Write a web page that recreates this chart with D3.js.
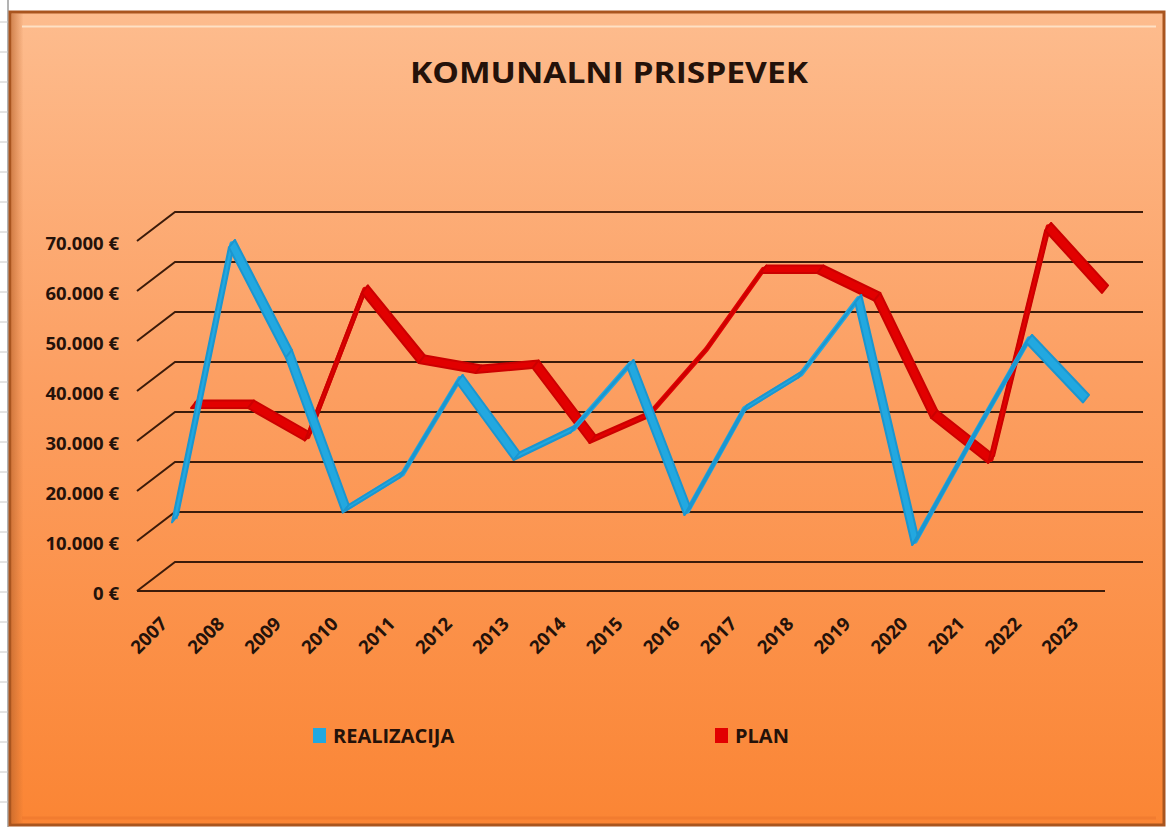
<!DOCTYPE html>
<html>
<head>
<meta charset="utf-8">
<script src="https://cdn.jsdelivr.net/npm/d3@7"></script>
<style>
  html, body { margin: 0; padding: 0; background: #ffffff; }
  svg { display: block; }
  text { font-family: "Open Sans", "DejaVu Sans", sans-serif; font-weight: 700; fill: #24120a; }
</style>
</head>
<body>
<svg id="chart" width="1166" height="827"></svg>
<script>
// ---------------- data ----------------
const years = ["2007","2008","2009","2010","2011","2012","2013","2014","2015","2016","2017","2018","2019","2020","2021","2022","2023"];
const realizacija = [13000, 68000, 46000, 15000, 22000, 41000, 25500, 31000, 44000, 14500, 35000, 42000, 57000, 8500, 29000, 49000, 37000];
const plan = [33000, 33000, 26500, 56000, 42000, 40000, 41000, 26000, 31000, 44000, 60000, 60000, 54500, 31000, 22000, 68500, 56000];
const yTickValues = [0, 10000, 20000, 30000, 40000, 50000, 60000, 70000];
const seriesNames = ["REALIZACIJA", "PLAN"];
const titleText = "KOMUNALNI PRISPEVEK";

// ---------------- layout ----------------
const W = 1166, H = 827;
const svg = d3.select("#chart");
const defs = svg.append("defs");

const bg = defs.append("linearGradient").attr("id", "bg").attr("x1", 0).attr("y1", 0).attr("x2", 0).attr("y2", 1);
bg.append("stop").attr("offset", "0%").attr("stop-color", "#fdbc8e");
bg.append("stop").attr("offset", "45%").attr("stop-color", "#fc9f62");
bg.append("stop").attr("offset", "100%").attr("stop-color", "#fb8534");

const leftBevel = defs.append("linearGradient").attr("id", "lb").attr("x1", 0).attr("y1", 0).attr("x2", 1).attr("y2", 0);
leftBevel.append("stop").attr("offset", "0%").attr("stop-color", "#b8622a");
leftBevel.append("stop").attr("offset", "100%").attr("stop-color", "#b8622a").attr("stop-opacity", 0);

// Excel sheet remnants on the left
const sheet = svg.append("g");
sheet.append("line").attr("x1", 8).attr("x2", 8).attr("y1", 0).attr("y2", H).attr("stroke", "#9a9a9a").attr("stroke-width", 1.5);
d3.range(22, H, 30).forEach(yy => {
  sheet.append("line").attr("x1", 0).attr("x2", 8).attr("y1", yy).attr("y2", yy).attr("stroke", "#c8c8c8");
});

// chart area with bevel
const frame = { x: 10, y: 12, w: 1154, h: 813 };
svg.append("rect").attr("x", frame.x).attr("y", frame.y).attr("width", frame.w).attr("height", frame.h)
  .attr("fill", "url(#bg)").attr("stroke", "#a9551f").attr("stroke-width", 3);
svg.append("rect").attr("x", frame.x + 1.5).attr("y", frame.y + 1.5).attr("width", 12).attr("height", frame.h - 3)
  .attr("fill", "url(#lb)").attr("opacity", 0.6);
svg.append("line").attr("x1", 22).attr("x2", 1156).attr("y1", 26.5).attr("y2", 26.5)
  .attr("stroke", "#ffe6cc").attr("stroke-width", 2).attr("opacity", 0.9);
svg.append("line").attr("x1", 22).attr("x2", 1156).attr("y1", 818).attr("y2", 818)
  .attr("stroke", "#f07a30").attr("stroke-width", 3).attr("opacity", 0.8);

// ---------------- scales ----------------
const floorLeft = 137, floorRight = 1105;
const depth = { dx: 38, dy: -29 };
const x = d3.scaleBand().domain(years).range([floorLeft, floorRight]).padding(0);
const y = d3.scaleLinear().domain([0, 70000]).range([591, 241]);

function pt(year, v, d) {
  return [x(year) + x.bandwidth() / 2 + depth.dx * d, y(v) + depth.dy * d];
}

// ---------------- gridlines (walls) ----------------
const grid = svg.append("g").attr("stroke", "#3b1b0a").attr("stroke-width", 2).attr("fill", "none");
yTickValues.forEach(v => {
  const y0 = y(v);
  grid.append("path").attr("d",
    `M${floorLeft},${y0} L${floorLeft + depth.dx},${y0 + depth.dy} L${floorRight + depth.dx},${y0 + depth.dy}`);
});
// front floor edge
grid.append("line").attr("x1", floorLeft).attr("x2", floorRight).attr("y1", y(0)).attr("y2", y(0));

// y axis labels (drawn with a D3 axis, domain line hidden)
const fmt = v => d3.format(",")(v).replace(/,/g, ".") + " €";
const yAxis = d3.axisLeft(y).tickValues(yTickValues).tickFormat(fmt).tickSize(0).tickPadding(0);
const gy = svg.append("g").attr("transform", "translate(119,3)").call(yAxis);
gy.select(".domain").remove();
gy.selectAll("text").attr("font-size", 18.5).attr("font-family", "\"Open Sans\", sans-serif")
  .attr("font-weight", 700).attr("fill", "#2a140a").attr("text-anchor", "end");

// x axis labels
const gx = svg.append("g");
years.forEach(yr => {
  const px = x(yr) + x.bandwidth() / 2 + 3, py = 625;
  gx.append("text").attr("x", px).attr("y", py).attr("text-anchor", "end")
    .attr("font-size", 18.5).attr("transform", `rotate(-45,${px},${py})`).text(yr);
});

// ---------------- ribbons ----------------
function ribbon(values, d, fill, stroke) {
  const g = svg.append("g");
  const hx = 3, hy = -3.75;
  const pts = values.map((v, i) => pt(years[i], v, d));
  // centre line gives the ribbon a minimum visible thickness
  g.append("path").attr("d", d3.line()(pts)).attr("fill", "none")
    .attr("stroke", fill).attr("stroke-width", 5).attr("stroke-linejoin", "round");
  for (let i = 0; i < pts.length - 1; i++) {
    const a = pts[i], b = pts[i + 1];
    const poly = [[a[0] + hx, a[1] + hy], [b[0] + hx, b[1] + hy], [b[0] - hx, b[1] - hy], [a[0] - hx, a[1] - hy]];
    g.append("path").attr("d", d3.line()(poly) + "Z")
      .attr("fill", fill).attr("stroke", stroke).attr("stroke-width", 2).attr("stroke-linejoin", "round");
  }
}
ribbon(plan, 0.75, "#e20000", "#cc0000");
ribbon(realizacija, 0.25, "#22a8e0", "#1b96cf");

// ---------------- title ----------------
svg.append("text").attr("x", 609).attr("y", 83).attr("text-anchor", "middle")
  .attr("font-size", 28).attr("textLength", 398).attr("lengthAdjust", "spacingAndGlyphs")
  .attr("fill", "#150a05").text(titleText);

// ---------------- legend ----------------
const legendColors = ["#22a8e0", "#e20000"];
const legendX = [313, 715];
seriesNames.forEach((name, i) => {
  svg.append("rect").attr("x", legendX[i]).attr("y", 728).attr("width", 13).attr("height", 15).attr("fill", legendColors[i]);
  svg.append("text").attr("x", legendX[i] + 20).attr("y", 743).attr("font-size", 20).attr("fill", "#24120a").text(name);
});
</script>
</body>
</html>
